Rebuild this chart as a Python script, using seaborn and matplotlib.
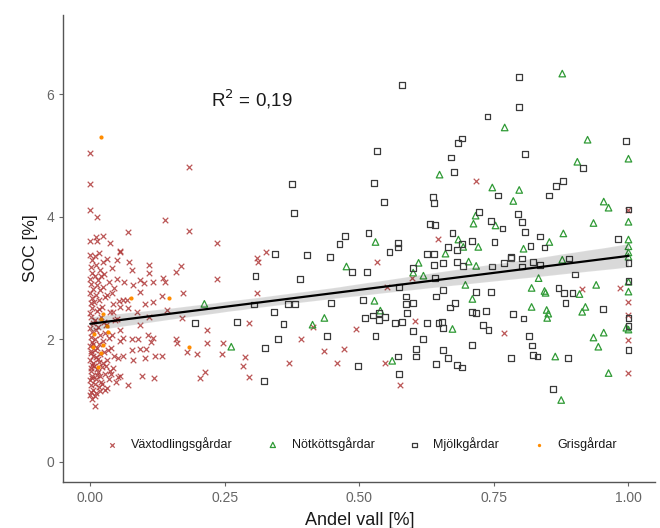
import matplotlib
matplotlib.use("Agg")
import matplotlib.pyplot as plt
import numpy as np
import pandas as pd
import seaborn as sns

# (andel vall, SOC) per farm type
VAXTODLING = [
    (0.000, 3.38), (0.003, 3.29), (0.001, 3.18), (0.004, 3.08), (0.000, 2.99), (0.002, 2.91),
    (0.005, 2.83), (0.000, 2.76), (0.003, 2.67), (0.001, 2.59), (0.004, 2.51), (0.000, 2.43),
    (0.002, 2.36), (0.005, 2.27), (0.000, 2.19), (0.003, 2.12), (0.001, 2.04), (0.004, 1.96),
    (0.000, 1.89), (0.002, 1.81), (0.005, 1.73), (0.000, 1.66), (0.003, 1.58), (0.001, 1.49),
    (0.004, 1.41), (0.000, 1.33), (0.002, 1.25), (0.005, 1.18), (0.000, 1.09), (0.003, 1.02),
    (0.009, 3.36), (0.011, 3.21), (0.008, 3.04), (0.012, 2.89), (0.010, 2.73), (0.007, 2.61),
    (0.013, 2.46), (0.009, 2.31), (0.011, 2.16), (0.008, 2.01), (0.012, 1.86), (0.010, 1.71),
    (0.007, 1.56), (0.013, 1.42), (0.009, 1.27), (0.011, 1.13),
    (0.016, 3.41), (0.018, 3.13), (0.015, 2.97), (0.019, 2.81), (0.017, 2.64), (0.016, 2.49),
    (0.020, 2.37), (0.015, 2.21), (0.018, 2.07), (0.016, 1.93), (0.019, 1.76), (0.017, 1.63),
    (0.015, 1.47), (0.020, 1.31), (0.018, 1.16),
    (0.023, 3.27), (0.026, 3.07), (0.024, 2.86), (0.027, 2.69), (0.022, 2.53), (0.025, 2.29),
    (0.028, 2.11), (0.023, 1.97), (0.026, 1.79), (0.024, 1.61), (0.027, 1.43), (0.022, 1.27),
    (0.031, 3.31), (0.034, 2.93), (0.032, 2.73), (0.036, 2.44), (0.030, 2.24), (0.035, 2.03),
    (0.033, 1.83), (0.031, 1.67), (0.036, 1.49), (0.034, 1.35), (0.032, 1.21),
    (0.040, 3.17), (0.044, 2.84), (0.042, 2.57), (0.046, 2.31), (0.041, 2.07), (0.045, 1.73),
    (0.043, 1.53), (0.047, 1.31),
    (0.050, 2.98), (0.053, 2.63), (0.049, 2.34), (0.055, 1.98), (0.052, 1.69), (0.051, 1.39),
    (0.001, 1.14), (0.004, 1.37), (0.002, 1.53), (0.006, 1.62), (0.001, 1.77), (0.005, 1.92),
    (0.008, 1.08), (0.010, 1.36), (0.012, 1.51), (0.014, 1.68), (0.009, 1.83), (0.017, 1.22),
    (0.019, 1.41), (0.021, 1.55), (0.028, 1.18), (0.029, 1.57), (0.038, 1.43), (0.039, 1.86),
    (0.000, 5.05), (0.000, 4.53), (0.000, 4.12), (0.013, 3.99), (0.000, 3.60), (0.013, 3.60),
    (0.010, 3.67), (0.024, 3.69), (0.037, 3.58), (0.056, 3.45), (0.009, 0.92),
    (0.184, 4.82), (0.138, 3.95), (0.070, 3.76), (0.184, 3.77), (0.236, 3.58), (0.310, 3.33),
    (0.056, 3.43), (0.050, 3.30), (0.072, 3.27), (0.110, 3.22), (0.169, 3.19), (0.078, 3.14),
    (0.160, 3.10), (0.110, 3.09), (0.020, 3.04), (0.236, 2.99), (0.136, 3.00), (0.139, 2.94),
    (0.063, 2.94), (0.093, 2.97), (0.117, 2.94), (0.100, 2.92), (0.080, 2.88), (0.173, 2.76),
    (0.093, 2.78), (0.134, 2.70), (0.040, 2.76), (0.060, 2.65), (0.069, 2.65), (0.117, 2.61),
    (0.102, 2.57), (0.143, 2.48), (0.087, 2.45), (0.070, 2.52), (0.056, 2.53), (0.043, 2.45),
    (0.110, 2.37), (0.171, 2.35), (0.294, 2.27), (0.093, 2.24), (0.217, 2.16), (0.056, 2.16),
    (0.060, 2.03), (0.078, 2.01), (0.089, 2.01), (0.108, 2.07), (0.117, 2.03), (0.113, 1.96),
    (0.160, 2.01), (0.161, 1.94), (0.216, 1.94), (0.247, 1.94), (0.180, 1.80), (0.199, 1.76),
    (0.245, 1.76), (0.288, 1.72), (0.078, 1.83), (0.093, 1.85), (0.104, 1.85), (0.134, 1.73),
    (0.120, 1.73), (0.102, 1.70), (0.060, 1.73), (0.080, 1.67), (0.284, 1.57), (0.214, 1.47),
    (0.056, 1.41), (0.097, 1.41), (0.119, 1.37), (0.203, 1.37), (0.294, 1.39), (0.070, 1.26),
    (0.647, 3.64), (0.327, 3.42), (0.312, 3.27), (0.533, 3.27), (0.310, 2.76), (0.552, 2.86),
    (0.597, 3.00), (0.604, 2.30), (0.414, 2.20), (0.494, 2.17), (0.392, 2.01), (0.435, 1.81),
    (0.472, 1.85), (0.370, 1.62), (0.459, 1.62), (0.548, 1.62), (0.576, 1.26),
    (0.716, 4.59), (0.914, 2.83), (0.985, 2.84), (0.768, 2.11), (1.000, 4.12), (1.000, 2.61),
    (1.000, 2.39), (1.000, 1.99), (1.000, 1.45),
]

NOTKOTT = [
    (0.212, 2.58), (0.262, 1.88), (0.649, 4.69), (0.530, 3.59), (0.660, 3.40),
    (0.476, 3.19), (0.610, 3.25), (0.600, 3.09), (0.619, 3.04), (0.528, 2.63), (0.539, 2.47),
    (0.435, 2.35), (0.413, 2.24), (0.561, 1.65),
    (0.877, 6.34), (0.770, 5.46), (0.924, 5.26), (1.000, 4.95), (0.905, 4.90), (0.747, 4.48),
    (0.797, 4.44), (0.786, 4.26), (0.954, 4.25), (0.963, 4.15), (0.716, 4.02), (0.712, 3.89),
    (0.753, 3.86), (0.935, 3.90), (0.879, 3.73), (0.853, 3.59), (0.684, 3.63), (0.693, 3.51),
    (0.721, 3.51), (0.805, 3.48), (1.000, 3.92), (1.000, 3.63), (1.000, 3.52), (1.000, 3.42),
    (0.703, 3.27), (0.717, 3.20), (0.877, 3.30), (0.697, 2.89), (0.833, 3.00), (0.820, 2.84),
    (0.844, 2.79), (0.846, 2.76), (0.909, 2.74), (0.940, 2.89), (0.710, 2.66), (0.820, 2.53),
    (0.848, 2.48), (0.851, 2.42), (0.849, 2.35), (0.914, 2.45), (0.920, 2.53), (0.673, 2.17),
    (0.954, 2.11), (0.935, 2.03), (0.944, 1.88), (0.864, 1.72), (0.963, 1.45), (0.875, 1.01),
    (1.000, 3.35), (1.000, 2.94), (1.000, 2.78), (1.000, 2.16), (0.996, 2.19),
]

MJOLK = [
    (0.307, 3.04), (0.305, 2.57), (0.195, 2.27), (0.273, 2.29),
    (0.580, 6.16), (0.532, 5.08), (0.374, 4.53), (0.528, 4.56), (0.545, 4.25), (0.379, 4.07),
    (0.636, 4.33), (0.639, 4.22), (0.632, 3.89), (0.641, 3.87), (0.474, 3.69), (0.517, 3.74),
    (0.463, 3.56), (0.571, 3.58), (0.571, 3.50), (0.556, 3.42), (0.344, 3.40), (0.403, 3.38),
    (0.446, 3.35), (0.626, 3.40), (0.638, 3.40), (0.664, 3.51),
    (0.390, 2.99), (0.515, 3.10), (0.487, 3.10), (0.600, 3.17), (0.639, 3.22), (0.656, 3.24),
    (0.641, 3.00), (0.656, 2.81), (0.643, 2.70), (0.586, 2.70), (0.599, 2.60), (0.587, 2.58),
    (0.589, 2.43), (0.573, 2.86), (0.507, 2.65), (0.448, 2.60), (0.368, 2.58), (0.381, 2.58),
    (0.342, 2.45), (0.511, 2.35), (0.526, 2.39), (0.537, 2.43), (0.548, 2.37), (0.537, 2.32),
    (0.567, 2.27), (0.580, 2.29), (0.625, 2.27), (0.647, 2.27), (0.656, 2.19), (0.359, 2.25),
    (0.599, 2.14), (0.440, 2.06), (0.530, 2.06), (0.619, 2.01), (0.349, 2.01), (0.325, 1.86),
    (0.606, 1.85), (0.606, 1.72), (0.656, 1.83), (0.572, 1.72), (0.643, 1.60), (0.498, 1.57),
    (0.574, 1.44), (0.323, 1.32),
    (0.796, 6.29), (0.796, 5.80), (0.738, 5.64), (0.684, 5.21), (0.691, 5.28), (0.996, 5.24),
    (0.671, 4.97), (0.807, 5.02), (0.675, 4.74), (0.916, 4.80), (0.866, 4.51), (0.879, 4.58),
    (0.758, 4.35), (0.853, 4.35), (0.723, 4.08), (0.794, 4.04), (0.803, 3.92), (0.745, 3.94),
    (0.766, 3.81), (0.807, 3.76), (0.673, 3.74), (0.710, 3.61), (0.751, 3.59), (0.836, 3.68),
    (0.818, 3.53), (0.844, 3.50), (0.980, 3.64), (0.682, 3.46), (0.691, 3.55), (0.781, 3.35),
    (0.803, 3.32), (1.000, 4.12),
    (0.682, 3.27), (0.693, 3.20), (0.747, 3.19), (0.768, 3.25), (0.782, 3.33), (0.822, 3.27),
    (0.803, 3.19), (0.836, 3.22), (0.890, 3.32), (0.901, 3.06), (0.717, 2.78), (0.745, 2.78),
    (0.870, 2.84), (0.881, 2.76), (0.896, 2.76), (0.678, 2.60), (0.669, 2.52), (0.710, 2.45),
    (0.717, 2.43), (0.736, 2.47), (0.883, 2.60), (0.952, 2.50), (0.786, 2.42), (0.805, 2.34),
    (0.654, 2.29), (0.730, 2.24), (0.740, 2.16), (0.816, 2.06), (0.710, 1.91), (0.820, 1.90),
    (0.823, 1.75), (0.831, 1.72), (0.782, 1.70), (0.887, 1.70), (0.665, 1.70), (0.682, 1.58),
    (0.690, 1.54), (0.859, 1.19), (1.000, 1.83), (1.000, 2.35), (1.000, 2.22), (1.000, 3.25),
    (1.000, 2.95),
]

GRIS = [
    (0.020, 5.31), (0.076, 2.68), (0.147, 2.68), (0.024, 2.42), (0.020, 2.34), (0.032, 2.22),
    (0.033, 2.12), (0.007, 2.09), (0.006, 1.88), (0.024, 1.90), (0.020, 1.78), (0.015, 1.55),
    (0.184, 1.88),
]

GROUPS = ["Växtodlingsgårdar", "Nötköttsgårdar", "Mjölkgårdar", "Grisgårdar"]
R2_LABEL = "R$^2$ = 0,19"


def to_frame():
    rows = []
    for name, pts in zip(GROUPS, [VAXTODLING, NOTKOTT, MJOLK, GRIS]):
        for x, y in pts:
            rows.append({"andel": x, "soc": y, "typ": name})
    return pd.DataFrame(rows)


def main():
    sns.set_style("white")
    plt.rcParams["font.family"] = ["Liberation Sans", "DejaVu Sans"]

    df = to_frame()
    styles = {
        "Växtodlingsgårdar": dict(marker="x", color="#b03a3a", s=16, linewidth=0.9, alpha=0.85),
        "Nötköttsgårdar": dict(marker="^", color="#2f9a35", s=22, linewidth=0.9,
                               facecolor="none", edgecolor="#2f9a35"),
        "Mjölkgårdar": dict(marker="s", color="#3a3a3a", s=18, linewidth=0.9,
                            facecolor="none", edgecolor="#3a3a3a"),
        "Grisgårdar": dict(marker="o", color="#ff8c00", s=9, linewidth=0),
    }

    fig = plt.figure(figsize=(6.6, 5.28), dpi=100)
    ax = fig.add_axes([0.096, 0.087, 0.897, 0.885])

    for name in GROUPS:
        sub = df[df["typ"] == name]
        sns.scatterplot(data=sub, x="andel", y="soc", ax=ax, label=name, **styles[name])

    sns.regplot(data=df, x="andel", y="soc", ax=ax, scatter=False, color="black",
                line_kws={"linewidth": 1.6}, ci=95)

    ax.text(0.30, 5.92, R2_LABEL, ha="center", va="center", fontsize=13.5, color="#1a1a1a")

    ax.set_xlim(-0.05, 1.05)
    ax.set_ylim(-0.33, 7.3)
    ax.set_xticks([0, 0.25, 0.5, 0.75, 1.0])
    ax.set_xticklabels(["0.00", "0.25", "0.50", "0.75", "1.00"])
    ax.set_yticks([0, 2, 4, 6])
    ax.tick_params(axis="both", labelsize=10, colors="#666666", length=3, width=0.8,
                   direction="out", left=True, bottom=True)
    ax.set_xlabel("Andel vall [%]", fontsize=13, color="#1a1a1a", labelpad=5)
    ax.set_ylabel("SOC [%]", fontsize=12.5, color="#1a1a1a", labelpad=6)

    sns.despine(ax=ax)
    for side in ["left", "bottom"]:
        ax.spines[side].set_color("#555555")
        ax.spines[side].set_linewidth(1.0)

    leg = ax.legend(ncol=4, loc="center", bbox_to_anchor=(0.503, 0.081), frameon=False,
                    fontsize=9, columnspacing=2.6, handlelength=1.2, handletextpad=0.9,
                    markerscale=0.8)
    for t in leg.get_texts():
        t.set_color("#1a1a1a")

    fig.savefig("out.png", dpi=100)
    plt.close(fig)


if __name__ == "__main__":
    main()
